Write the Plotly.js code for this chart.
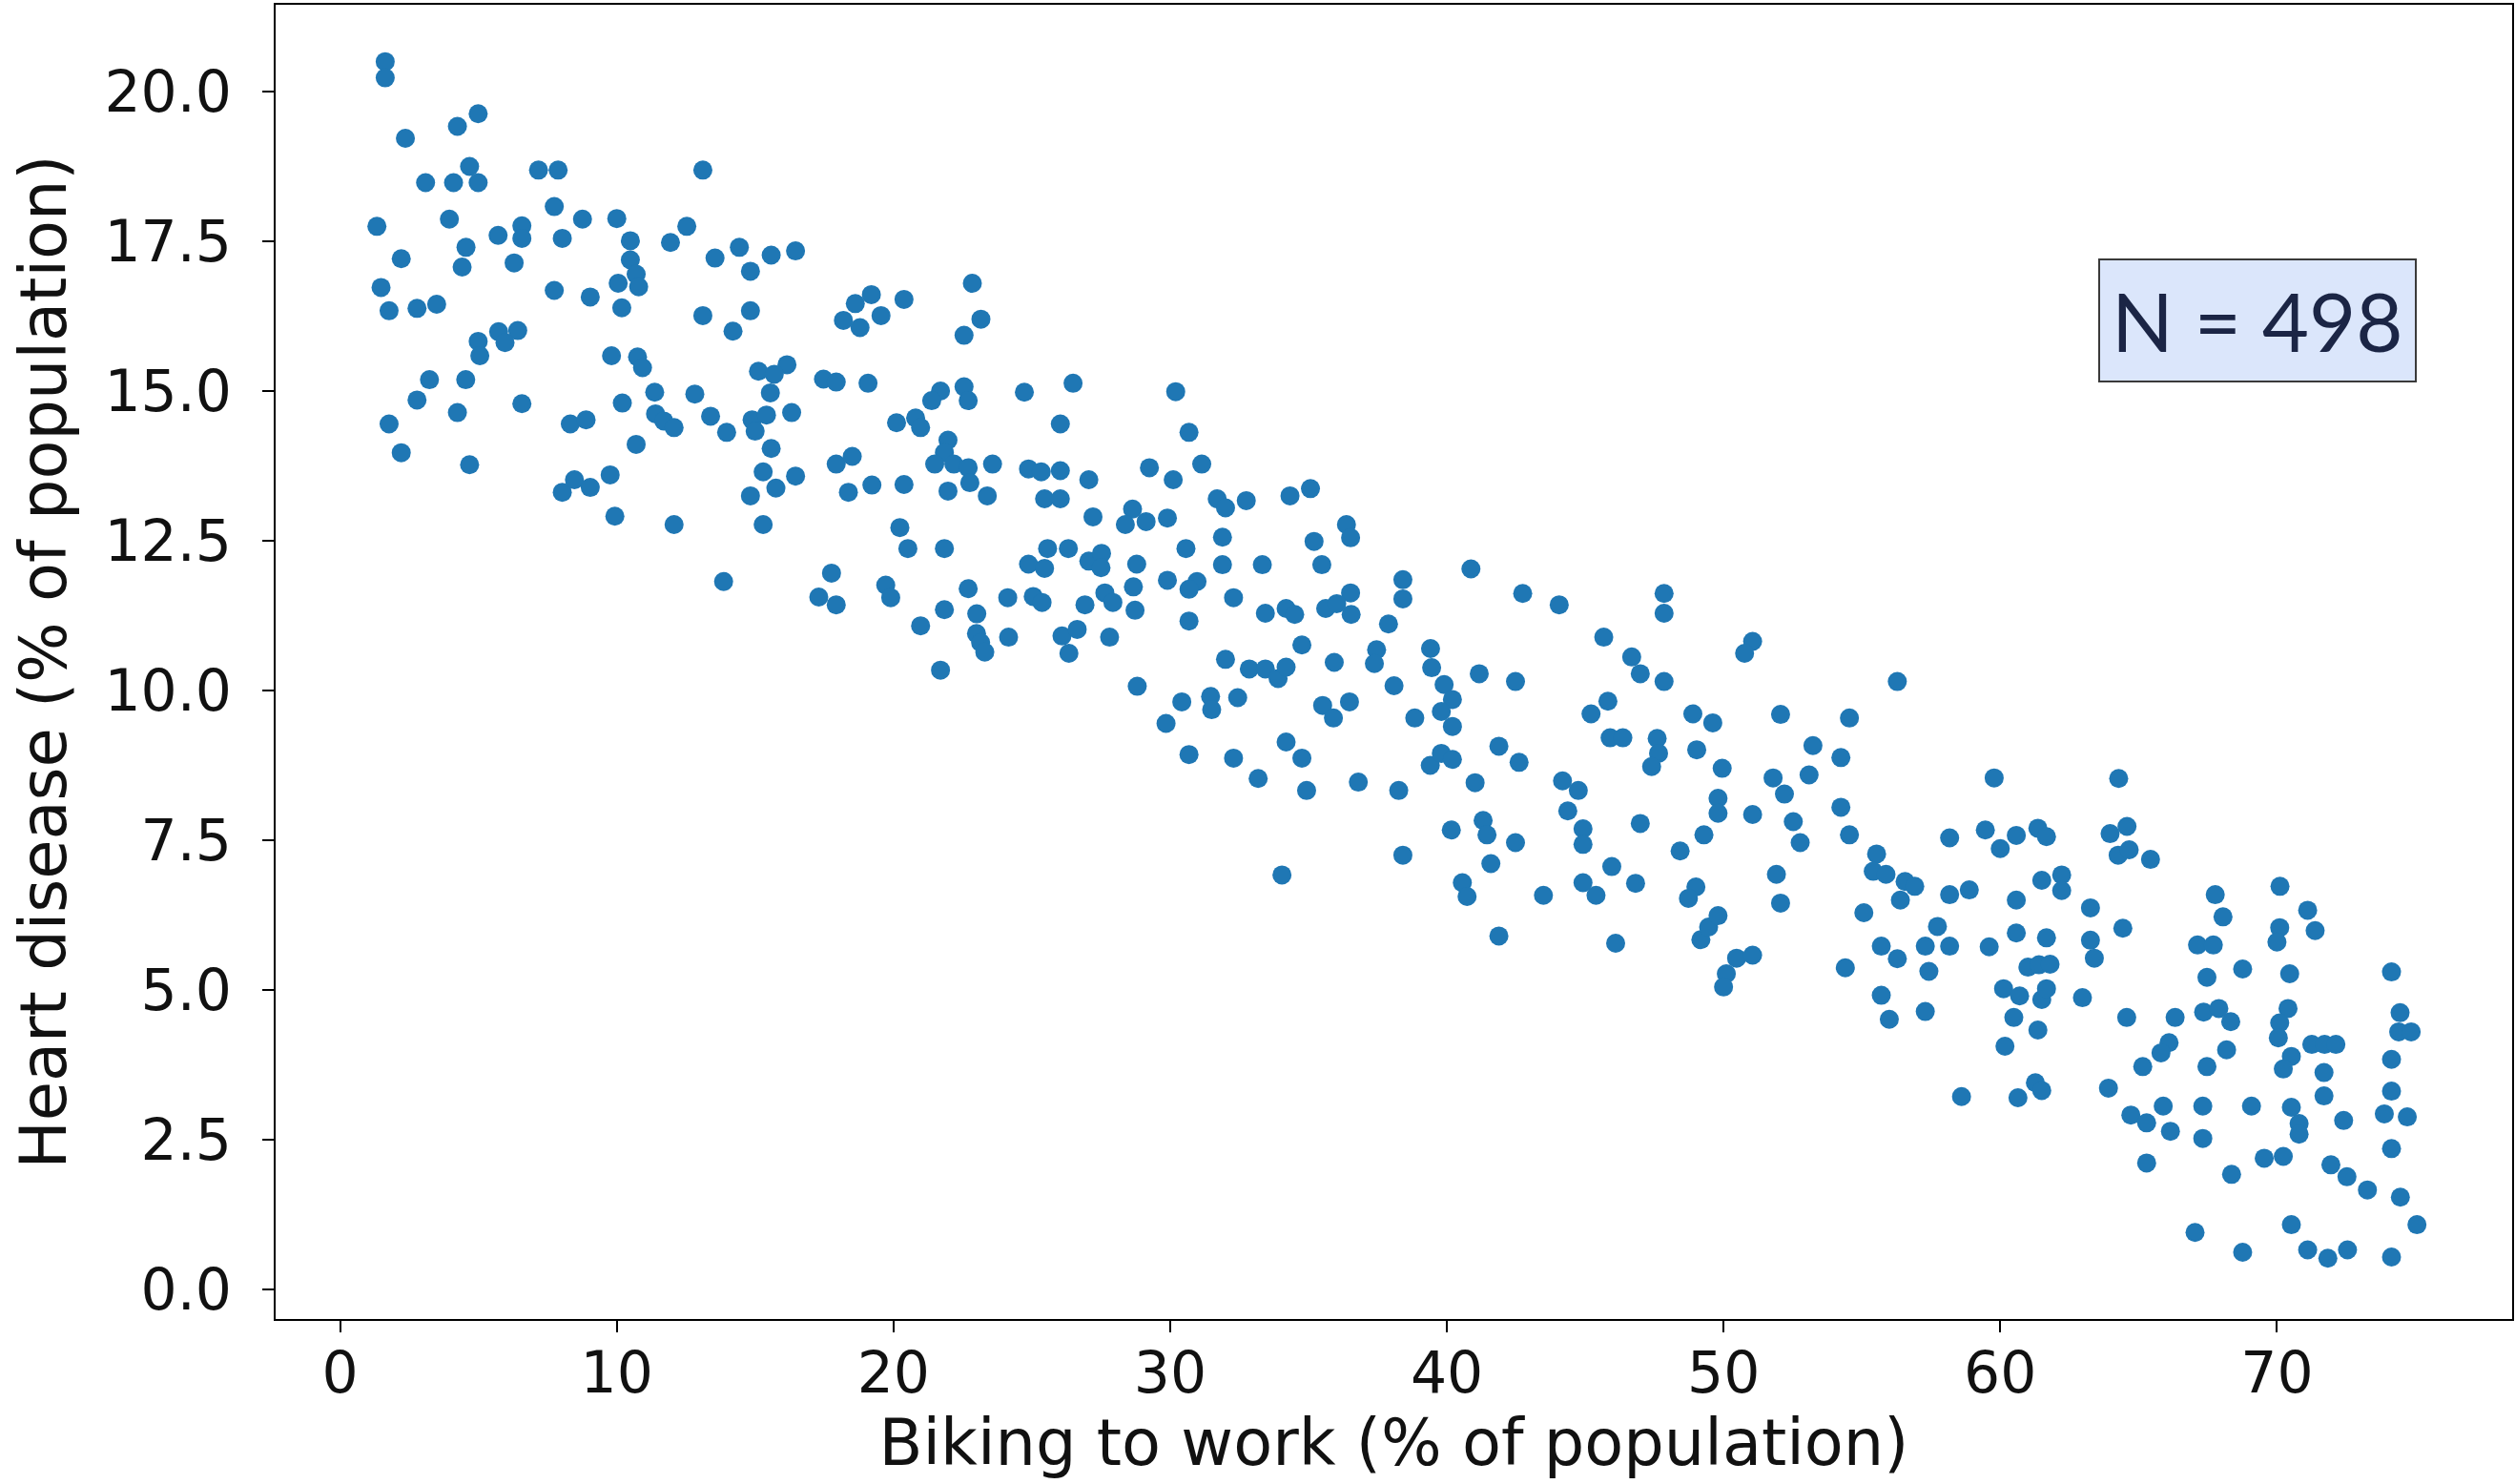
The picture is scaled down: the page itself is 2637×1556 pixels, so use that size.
<!DOCTYPE html>
<html>
<head>
<meta charset="utf-8">
<script src="https://cdn.plot.ly/plotly-3.0.1.min.js"></script>
<style>html,body{margin:0;padding:0;background:#fff;}#chart{width:2637px;height:1556px;}</style>
</head>
<body>
<div id="chart"></div>
<script>
// Biking to work (% of population)
const bikingX = [
1.63,1.63,4.99,4.24,2.36,4.68,3.09,4.10,4.99,7.17,7.88,7.74,8.76,10.0,1.33,3.95,5.71,6.57,6.57,8.03,4.55,4.41,2.21,6.29,1.48,7.74,10.05,9.04,
2.78,3.49,1.77,4.99,5.73,6.42,5.05,5.96,9.81,3.23,4.54,2.78,6.57,4.24,1.77,8.32,8.89,10.2,2.21,4.68,8.03,8.47,9.04,9.76,9.93,
13.11,12.53,11.94,10.49,10.49,10.70,10.79,10.18,13.55,14.43,15.58,16.46,14.83,13.11,14.83,14.20,19.20,18.62,18.19,18.79,19.55,10.75,10.93,11.37,12.82,15.12,16.15,15.69,15.55,17.47,17.93,19.08,
11.4,11.7,12.07,13.39,13.97,14.89,15.41,15.00,16.32,15.58,10.70,15.29,15.75,16.46,14.83,17.93,18.51,18.37,19.22,12.07,15.29,13.86,17.76,17.30,17.93,19.72,19.9,
22.85,20.38,23.16,22.55,21.70,21.38,22.55,22.70,24.73,26.49,20.11,20.80,20.98,26.03,21.97,21.84,21.49,22.18,22.70,22.76,23.39,21.97,20.38,23.58,24.88,25.34,26.03,27.06,29.25,
25.46,26.03,27.21,28.64,28.38,29.13,29.9,20.23,20.52,21.84,25.57,26.32,24.88,25.46,27.06,27.52,27.5,28.79,28.67,28.73,29.9,22.70,24.13,25.05,25.37,26.92,27.64,27.93,21.84,23.01,20.98,23.0,23.15,23.3,24.16,26.09,26.64,26.34,27.81,21.70,28.81,29.85,
30.2,30.68,31.14,30.11,31.7,32.0,32.75,34.33,35.07,36.37,36.52,31.89,35.20,30.57,31.89,33.33,35.48,30.97,30.68,32.29,33.44,34.19,34.50,35.62,36.52,36.54,36.02,38.41,38.41,37.89,30.68,34.76,32.0,35.93,37.46,37.38,39.41,
32.86,33.44,33.90,34.19,39.45,38.09,30.42,31.46,31.5,32.44,35.51,36.48,35.90,38.84,30.68,32.29,34.19,34.76,33.18,34.93,36.80,38.26,39.4,39.8,38.41,34.04,
40.87,42.74,44.06,47.85,47.85,45.67,46.68,46.99,47.85,41.17,42.48,39.9,40.2,39.8,40.2,45.82,45.21,48.89,49.61,45.90,46.36,47.6,47.65,47.4,49.03,49.95,40.2,41.88,42.61,41.02,44.18,44.75,44.37,44.92,44.92,46.99,49.8,49.8,49.29,48.43,40.16,41.31,41.45,42.48,41.59,45.96,40.56,40.73,43.49,44.92,45.39,46.82,49.00,48.73,41.88,46.10,49.18,49.46,49.80,
51.05,50.76,56.28,52.06,54.55,53.23,54.24,51.79,52.20,53.09,59.78,54.24,51.05,52.52,52.77,54.55,58.17,59.46,60.0,55.53,55.41,55.87,56.56,56.91,56.39,58.17,58.88,51.91,52.06,55.07,57.73,55.70,56.28,57.29,58.17,57.42,59.6,50.47,51.05,50.1,50.0,54.40,55.70,55.99,57.29,58.60,
64.28,61.36,61.67,60.58,63.97,64.58,64.26,64.66,65.43,61.50,62.22,62.22,60.58,63.26,67.77,68.05,60.58,61.67,64.43,63.26,63.40,67.13,67.70,61.0,61.4,61.8,67.47,68.76,60.12,60.70,61.50,61.67,62.97,60.49,61.36,60.17,64.57,66.32,67.35,67.9,68.33,66.10,65.81,68.18,65.15,67.47,61.27,61.50,60.64,63.91,64.72,65.29,65.89,66.15,67.32,69.08,67.32,65.29,68.36,69.54,67.04,68.76,
70.11,71.11,71.38,70.1,70.0,70.46,74.14,70.40,70.1,70.05,70.52,70.23,71.26,71.72,72.13,71.70,71.70,74.14,74.45,74.4,74.85,74.14,73.88,74.71,70.52,70.80,70.80,72.41,70.23,71.95,72.53,73.27,74.14,74.46,75.06,70.52,71.11,71.84,72.55,74.14
];
// Heart disease (% of population)
const heartY = [
20.50,20.23,19.63,19.42,19.22,18.75,18.48,18.48,18.48,18.69,18.69,18.08,17.87,17.88,17.75,17.87,17.60,17.76,17.55,17.55,17.40,17.07,17.21,17.14,16.73,16.68,16.80,16.57,
16.38,16.45,16.34,15.83,15.99,16.01,15.59,15.81,15.59,15.19,15.19,14.85,14.79,14.64,14.45,14.45,14.52,14.80,13.97,13.77,13.31,13.52,13.39,13.60,12.91,
18.69,17.75,17.48,17.51,17.19,16.95,16.74,16.39,17.22,17.40,17.27,17.34,17.00,16.26,16.34,16.00,16.61,16.46,16.18,16.06,16.26,15.57,15.39,14.98,14.95,15.33,15.44,15.28,14.97,15.20,15.15,15.13,
14.62,14.50,14.39,14.58,14.31,14.52,14.60,14.33,14.64,14.04,14.11,13.65,13.38,13.58,13.25,13.78,13.91,13.31,13.43,12.77,12.77,11.82,11.96,11.56,11.43,11.76,11.55,
16.80,16.53,16.20,15.93,15.00,14.84,15.07,14.84,14.98,15.13,14.47,14.55,14.39,14.45,14.18,13.97,13.78,13.78,13.72,13.47,13.25,13.33,13.44,13.78,13.70,13.65,13.67,13.52,13.72,
13.20,13.20,12.90,13.03,12.77,12.82,12.88,12.72,12.37,12.37,12.37,12.37,12.11,12.04,12.16,12.29,12.05,12.11,11.73,11.34,11.84,11.70,11.55,11.57,11.47,11.43,11.63,11.47,11.35,11.28,11.08,10.95,10.80,10.64,10.89,10.91,11.02,10.62,10.89,10.34,10.07,9.45,
14.99,14.31,13.78,13.52,13.20,13.05,13.17,13.25,13.37,12.77,12.55,12.56,12.49,12.37,12.10,12.10,12.10,11.82,11.69,11.55,11.29,11.37,11.27,11.37,11.63,11.27,11.45,11.85,11.53,11.11,11.16,10.76,10.52,10.47,10.68,10.45,10.70,
10.36,10.36,10.20,10.39,10.38,10.08,9.81,9.90,9.68,9.88,9.75,9.81,9.54,9.54,8.93,8.87,9.14,8.87,8.53,8.33,8.47,8.33,8.75,8.95,7.25,6.92,
12.03,11.62,11.43,11.62,11.29,10.89,10.56,10.28,10.15,10.28,10.15,10.10,9.85,9.65,9.40,9.82,9.61,9.61,9.46,9.21,9.21,9.20,8.95,8.73,9.01,8.70,8.85,9.07,8.80,8.46,8.49,8.33,7.99,7.69,7.43,7.78,8.20,7.95,7.59,7.32,7.67,7.83,7.59,7.46,7.11,7.06,6.79,6.56,6.58,6.79,6.58,6.78,6.72,6.53,5.90,5.78,5.84,6.05,6.24,
10.82,10.62,10.15,9.60,9.54,9.08,8.88,8.54,8.27,8.59,8.54,8.05,7.93,7.81,7.46,7.59,7.54,7.67,7.36,7.27,6.98,6.93,6.81,6.73,6.50,6.59,6.67,6.93,6.45,6.29,6.06,5.73,5.52,5.73,5.73,5.31,5.72,5.53,5.58,5.27,5.05,5.37,4.91,4.51,4.64,3.22,
8.53,7.70,7.56,7.58,7.61,7.73,7.25,7.34,7.18,6.83,6.92,6.66,6.50,6.37,6.59,6.22,5.95,5.87,6.03,5.83,5.53,5.75,5.75,5.38,5.42,5.43,5.21,5.35,5.02,4.90,4.84,5.02,4.87,4.54,4.33,4.06,4.54,4.54,4.63,4.69,4.47,4.12,3.95,4.00,3.72,3.72,3.45,3.32,3.20,3.36,2.91,2.78,3.06,2.64,3.06,3.06,2.52,2.11,1.92,2.19,0.95,0.62,
6.73,6.33,5.99,6.04,5.80,5.27,5.30,4.69,4.45,4.20,3.89,3.68,4.09,4.09,4.09,3.62,3.23,3.84,4.62,4.30,4.30,3.31,2.93,2.88,3.04,2.77,2.59,2.82,2.22,2.08,1.88,1.66,2.35,1.54,1.08,1.08,0.66,0.52,0.66,0.54
];
const xTickVals = [0,10,20,30,40,50,60,70];
const xTickText = ['0','10','20','30','40','50','60','70'];
const yTickVals = [0,2.5,5,7.5,10,12.5,15,17.5,20];
const yTickText = ['0.0','2.5','5.0','7.5','10.0','12.5','15.0','17.5','20.0'];
const sampleLabel = 'N = 498';

const trace = {
  type: 'scatter', mode: 'markers',
  x: bikingX, y: heartY,
  marker: {color: '#1f77b4', size: 20, line: {width: 0}},
  hoverinfo: 'x+y'
};

const axisCommon = {
  showgrid: false, zeroline: false,
  showline: true, linecolor: '#000', linewidth: 2, mirror: true,
  ticks: 'outside', ticklen: 12, tickwidth: 2, tickcolor: '#000',
  tickfont: {family: 'DejaVu Sans', size: 60, color: '#111'}
};

const layout = {
  width: 2637, height: 1556,
  margin: {l: 289, r: 3, t: 5, b: 173, pad: 0},
  paper_bgcolor: '#fff', plot_bgcolor: '#fff',
  showlegend: false,
  font: {family: 'DejaVu Sans', color: '#111'},
  xaxis: Object.assign({}, axisCommon, {
    range: [-2.33, 78.5],
    tickmode: 'array', tickvals: xTickVals, ticktext: xTickText,
    ticklabelstandoff: -9,
    title: {text: 'Biking to work (% of population)', font: {family: 'DejaVu Sans', size: 67, color: '#111'}, standoff: 12}
  }),
  yaxis: Object.assign({}, axisCommon, {
    range: [-0.495, 21.45],
    tickmode: 'array', tickvals: yTickVals, ticktext: yTickText,
    ticklabelstandoff: 20,
    title: {text: 'Heart disease (% of population)', font: {family: 'DejaVu Sans', size: 67, color: '#111'}, standoff: 18}
  }),
  annotations: [{
    xref: 'paper', yref: 'paper', x: 0.886, y: 0.7595,
    xanchor: 'center', yanchor: 'middle',
    text: sampleLabel, showarrow: false,
    font: {family: 'Lato', size: 85, color: '#1b2545'},
    bgcolor: '#dbe6fb', bordercolor: '#3a3a3a', borderwidth: 2, borderpad: 12
  }]
};

Plotly.newPlot('chart', [trace], layout, {displayModeBar: false, staticPlot: true});
</script>
</body>
</html>
